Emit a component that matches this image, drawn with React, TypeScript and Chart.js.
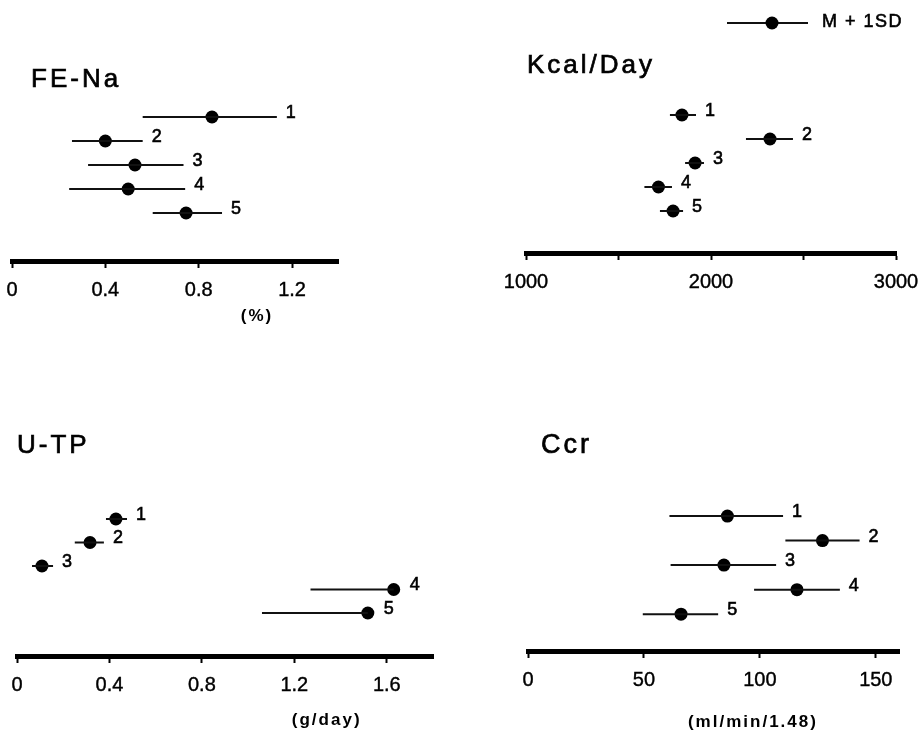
import React, { useEffect, useRef } from "react";
import { Chart, registerables } from "chart.js";

Chart.register(...registerables);

// ---- Data ----
const GROUPS = ["1", "2", "3", "4", "5"];

const FENA_MEAN = [0.857, 0.4, 0.527, 0.498, 0.746];
const FENA_LOW = [0.56, 0.257, 0.326, 0.245, 0.603];
const FENA_HIGH = [1.135, 0.56, 0.735, 0.742, 0.9];
const FENA_TICKS = [0, 0.4, 0.8, 1.2];

const KCAL_MEAN = [1843, 2319, 1914, 1716, 1795];
const KCAL_LOW = [1778, 2189, 1860, 1640, 1724];
const KCAL_HIGH = [1919, 2443, 1962, 1789, 1849];
const KCAL_TICKS = [1000, 2000, 3000];

const UTP_MEAN = [0.428, 0.316, 0.108, 1.63, 1.518];
const UTP_LOW = [0.385, 0.25, 0.065, 1.27, 1.06];
const UTP_HIGH = [0.476, 0.376, 0.156, 1.63, 1.518];
const UTP_TICKS = [0, 0.4, 0.8, 1.2, 1.6];

const CCR_MEAN = [86, 127, 84.5, 116, 66];
const CCR_LOW = [61, 111, 61.5, 97.5, 49.5];
const CCR_HIGH = [110, 143, 107, 134.5, 82];
const CCR_TICKS = [0, 50, 100, 150];

const W = 920;
const H = 735;
const XH = 40;
const FONT = "'Liberation Sans', Arial, Helvetica, sans-serif";

type Panel = {
  title: string;
  unit: string;
  mean: number[];
  low: number[];
  high: number[];
  ticks: number[];
  min: number;
  max: number;
  step: number;
  ymax: number;
  left: number;
  right: number;
  top: number;
  bottom: number;
  titleX: number;
  titleY: number;
  titleSize: number;
  unitValue: number;
  unitDy: number;
  legend?: boolean;
};

const PANELS: Panel[] = [
  {
    title: "FE-Na", unit: "(%)", mean: FENA_MEAN, low: FENA_LOW, high: FENA_HIGH, ticks: FENA_TICKS,
    min: 0, max: 1.4, step: 0.4, ymax: 7,
    left: 12, right: 338.7, top: 93, bottom: 261,
    titleX: 31, titleY: 87, titleSize: 26, unitValue: 1.05, unitDy: 53,
  },
  {
    title: "Kcal/Day", unit: "", mean: KCAL_MEAN, low: KCAL_LOW, high: KCAL_HIGH, ticks: KCAL_TICKS,
    min: 1000, max: 3000, step: 500, ymax: 6.75,
    left: 526, right: 896, top: 91, bottom: 253,
    titleX: 527, titleY: 73, titleSize: 26, unitValue: 0, unitDy: 0, legend: true,
  },
  {
    title: "U-TP", unit: "(g/day)", mean: UTP_MEAN, low: UTP_LOW, high: UTP_HIGH, ticks: UTP_TICKS,
    min: 0, max: 1.8, step: 0.4, ymax: 6.83,
    left: 17, right: 433, top: 495.5, bottom: 656,
    titleX: 17, titleY: 453, titleSize: 26, unitValue: 1.34, unitDy: 62,
  },
  {
    title: "Ccr", unit: "(ml/min/1.48)", mean: CCR_MEAN, low: CCR_LOW, high: CCR_HIGH, ticks: CCR_TICKS,
    min: 0, max: 160, step: 50, ymax: 6.5,
    left: 528, right: 899, top: 491.5, bottom: 651,
    titleX: 541, titleY: 453, titleSize: 27, unitValue: 97, unitDy: 69,
  },
];

function fmt(v: number): string {
  return String(Number(v.toFixed(2)));
}

function drawText(ctx: CanvasRenderingContext2D, s: string, x: number, y: number, stroke: number) {
  ctx.fillText(s, x, y);
  if (stroke > 0) {
    ctx.lineWidth = stroke;
    ctx.strokeStyle = "#000";
    ctx.strokeText(s, x, y);
  }
}

function PanelChart({ p }: { p: Panel }) {
  const ref = useRef<HTMLCanvasElement | null>(null);
  useEffect(() => {
    if (!ref.current) return;
    const whiskers = GROUPS.map((g, i) => ({
      type: "scatter" as const,
      label: "range " + g,
      data: [
        { x: p.low[i], y: i + 1 },
        { x: p.high[i], y: i + 1 },
      ],
      showLine: true,
      borderColor: "#111",
      borderWidth: 2,
      pointRadius: 0,
    }));
    const means = {
      type: "scatter" as const,
      label: "mean",
      data: p.mean.map((m, i) => ({ x: m, y: i + 1 })),
      showLine: false,
      pointRadius: 6.5,
      backgroundColor: "#000",
      borderColor: "#000",
      borderWidth: 0,
    };
    const annot = {
      id: "annot" + p.title,
      afterDatasetsDraw(chart: any) {
        const ctx = chart.ctx as CanvasRenderingContext2D;
        const xs = chart.scales.x;
        const ys = chart.scales.y;
        ctx.save();
        ctx.fillStyle = "#000";
        // group numbers
        ctx.font = `18px ${FONT}`;
        ctx.textBaseline = "middle";
        ctx.textAlign = "left";
        GROUPS.forEach((g, i) => {
          const hx = xs.getPixelForValue(p.high[i]);
          const mx = xs.getPixelForValue(p.mean[i]) + 7;
          const y = ys.getPixelForValue(i + 1) - 4;
          drawText(ctx, g, Math.max(hx, mx) + 9, y, 0.6);
        });
        // title
        ctx.font = `${p.titleSize}px ${FONT}`;
        ctx.textBaseline = "alphabetic";
        (ctx as any).letterSpacing = "3px";
        drawText(ctx, p.title, p.titleX, p.titleY, 0.7);
        // unit
        if (p.unit) {
          ctx.font = `bold 17px ${FONT}`;
          (ctx as any).letterSpacing = "2px";
          ctx.textAlign = "center";
          ctx.textBaseline = "middle";
          drawText(ctx, p.unit, xs.getPixelForValue(p.unitValue), p.bottom + 2 + p.unitDy, 0);
        }
        // legend
        if (p.legend) {
          ctx.strokeStyle = "#111";
          ctx.lineWidth = 2;
          ctx.beginPath();
          ctx.moveTo(727, 23);
          ctx.lineTo(808, 23);
          ctx.stroke();
          ctx.beginPath();
          ctx.arc(772, 23, 6.5, 0, Math.PI * 2);
          ctx.fill();
          ctx.font = `18px ${FONT}`;
          (ctx as any).letterSpacing = "1.5px";
          ctx.textAlign = "left";
          ctx.textBaseline = "middle";
          drawText(ctx, "M + 1SD", 822, 22, 0.6);
        }
        ctx.restore();
      },
    };
    const chart = new Chart(ref.current, {
      type: "scatter",
      data: { datasets: [...whiskers, means] as any },
      options: {
        animation: false,
        responsive: false,
        devicePixelRatio: 1,
        layout: {
          padding: { left: p.left, right: W - p.right, top: p.top, bottom: H - p.bottom - XH },
        },
        plugins: { legend: { display: false }, tooltip: { enabled: false }, title: { display: false } },
        scales: {
          x: {
            type: "linear",
            position: "bottom",
            min: p.min,
            max: p.max,
            afterFit: (s: any) => {
              s.height = XH;
              s.paddingLeft = 0;
              s.paddingRight = 0;
            },
            border: { display: true, width: 5, color: "#000" },
            grid: {
              display: true,
              drawOnChartArea: false,
              drawTicks: true,
              tickLength: 7,
              tickWidth: 2,
              tickColor: "#000",
              color: "#000",
            },
            ticks: {
              stepSize: p.step,
              includeBounds: false,
              color: "#000",
              font: { size: 20, family: FONT },
              textStrokeColor: "#000",
              textStrokeWidth: 0.4,
              padding: 10,
              maxRotation: 0,
              autoSkip: false,
              callback: (v: any) => (p.ticks.some((t) => Math.abs(t - Number(v)) < 1e-6) ? fmt(Number(v)) : ""),
            },
          },
          y: {
            type: "linear",
            display: false,
            min: 0,
            max: p.ymax,
            reverse: true,
          },
        },
      },
      plugins: [annot],
    });
    return () => chart.destroy();
  }, [p]);
  return (
    <canvas
      ref={ref}
      width={W}
      height={H}
      style={{ position: "absolute", left: 0, top: 0, width: W, height: H }}
    />
  );
}

export default function App() {
  useEffect(() => {
    document.body.style.margin = "0";
    document.body.style.background = "#fff";
  }, []);
  return (
    <div style={{ position: "fixed", left: 0, top: 0, width: W, height: H, background: "#fff" }}>
      {PANELS.map((p) => (
        <PanelChart key={p.title} p={p} />
      ))}
    </div>
  );
}
